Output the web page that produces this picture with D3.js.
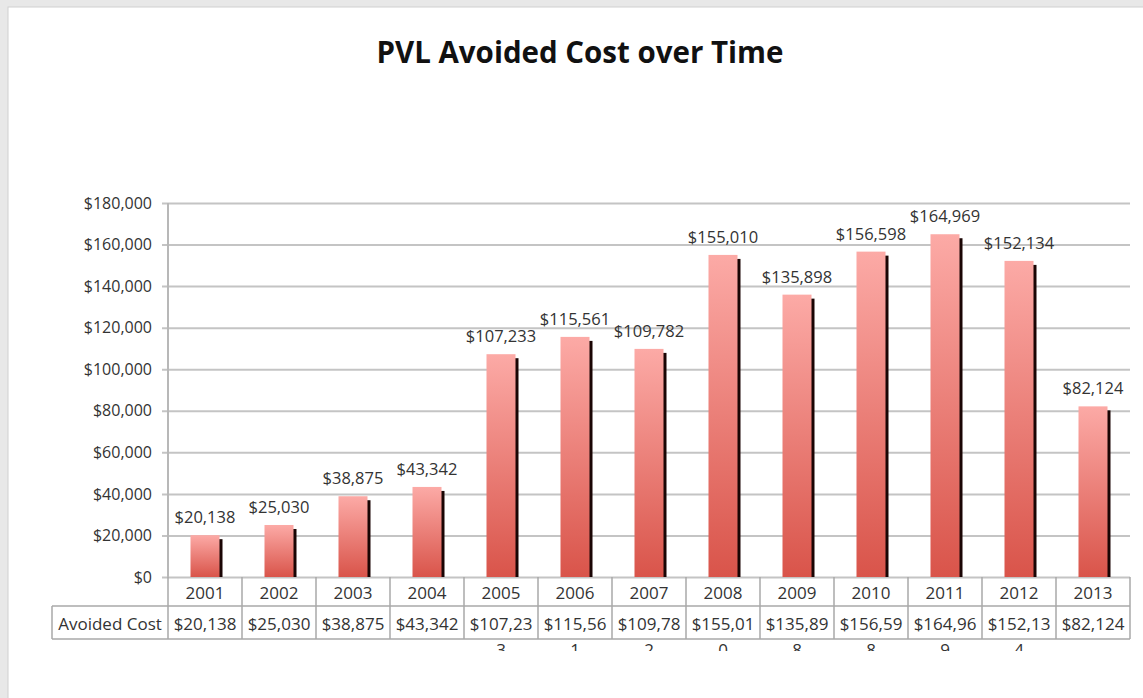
<!DOCTYPE html>
<html>
<head>
<meta charset="utf-8">
<script src="https://cdn.jsdelivr.net/npm/d3@7"></script>
<style>
  body { margin: 0; background: #fff; }
  svg text { font-family: "Open Sans", "DejaVu Sans", sans-serif; }
</style>
</head>
<body>
<svg id="chart" width="1143" height="698"></svg>
<script>
const years = ["2001", "2002", "2003", "2004", "2005", "2006", "2007", "2008", "2009", "2010", "2011", "2012", "2013"];
const avoidedCost = [20138, 25030, 38875, 43342, 107233, 115561, 109782, 155010, 135898, 156598, 164969, 152134, 82124];
const yTicks = [0, 20000, 40000, 60000, 80000, 100000, 120000, 140000, 160000, 180000];
const seriesName = "Avoided Cost";
const title = "PVL Avoided Cost over Time";

const svg = d3.select("#chart");
const plotL = 168, plotR = 1130, plotT = 203, base = 577;
const row1 = 606, row2 = 639, labelLeft = 52;

// frame
svg.append("rect").attr("width", 1143).attr("height", 698).attr("fill", "#e8e8e8");
svg.append("rect").attr("x", 8).attr("y", 7).attr("width", 1140).attr("height", 700)
  .attr("fill", "#fff").attr("stroke", "#cfcfcf").attr("stroke-width", 1);

const defs = svg.append("defs");
const grad = defs.append("linearGradient").attr("id", "barGrad")
  .attr("x1", 0).attr("y1", 0).attr("x2", 0).attr("y2", 1);
grad.append("stop").attr("offset", "0%").attr("stop-color", "#fcaaa6");
grad.append("stop").attr("offset", "100%").attr("stop-color", "#d9544a");
defs.append("clipPath").attr("id", "tableClip")
  .append("rect").attr("x", 0).attr("y", 0).attr("width", 1143).attr("height", 651);

const x = d3.scaleBand().domain(years).range([plotL, plotR]);
const y = d3.scaleLinear().domain([0, 180000]).range([base, plotT]);
const fmt = v => "$" + d3.format(",")(v);

svg.append("text")
  .attr("x", 580).attr("y", 63)
  .attr("text-anchor", "middle")
  .style("font-size", "29.5px").style("font-weight", "bold")
  .attr("fill", "#111")
  .text(title);

// gridlines
svg.append("g")
  .attr("transform", `translate(${plotR},0)`)
  .call(d3.axisLeft(y).tickValues(yTicks).tickSize(plotR - plotL + 6).tickFormat(""))
  .call(g => g.select(".domain").remove())
  .call(g => g.selectAll("line").attr("stroke", "#c4c4c4").attr("stroke-width", 2));

// y axis labels
svg.append("g")
  .attr("transform", `translate(${plotL - 6},0)`)
  .call(d3.axisLeft(y).tickValues(yTicks).tickSize(0).tickPadding(10).tickFormat(fmt))
  .call(g => g.select(".domain").remove())
  .call(g => g.selectAll("text").style("font-size", "16px").attr("fill", "#333"));

svg.append("line")
  .attr("x1", plotL).attr("x2", plotL).attr("y1", plotT).attr("y2", base)
  .attr("stroke", "#b8b8b8").attr("stroke-width", 2);

// bars
const bw = 29;
const bars = svg.append("g").selectAll("g")
  .data(years.map((yr, i) => ({ yr, v: avoidedCost[i] })))
  .join("g");

bars.append("rect")
  .attr("x", d => x(d.yr) + x.bandwidth() / 2 - bw / 2 + 3)
  .attr("y", d => y(d.v) + 4)
  .attr("width", bw)
  .attr("height", d => base - y(d.v) - 4)
  .attr("fill", "#1a0504");

bars.append("rect")
  .attr("x", d => x(d.yr) + x.bandwidth() / 2 - bw / 2)
  .attr("y", d => y(d.v))
  .attr("width", bw)
  .attr("height", d => base - y(d.v))
  .attr("fill", "url(#barGrad)");

bars.append("text")
  .attr("x", d => x(d.yr) + x.bandwidth() / 2)
  .attr("y", d => y(d.v) - 12)
  .attr("text-anchor", "middle")
  .style("font-size", "16.5px")
  .attr("fill", "#333")
  .text(d => fmt(d.v));

// data table
const tbl = svg.append("g").attr("clip-path", "url(#tableClip)");
const bc = "#a8a8a8";
tbl.append("line").attr("x1", plotL).attr("x2", plotR).attr("y1", row1).attr("y2", row1).attr("stroke", bc).attr("stroke-width", 1.5);
tbl.append("line").attr("x1", labelLeft).attr("x2", plotR).attr("y1", row2).attr("y2", row2).attr("stroke", bc).attr("stroke-width", 1.5);
tbl.append("line").attr("x1", labelLeft).attr("x2", plotL).attr("y1", row1).attr("y2", row1).attr("stroke", bc).attr("stroke-width", 1.5);
tbl.append("line").attr("x1", labelLeft).attr("x2", labelLeft).attr("y1", row1).attr("y2", row2).attr("stroke", bc).attr("stroke-width", 1.5);
tbl.selectAll(".vline").data(years.concat(["end"]))
  .join("line")
  .attr("x1", d => d === "end" ? plotR : x(d))
  .attr("x2", d => d === "end" ? plotR : x(d))
  .attr("y1", base).attr("y2", row2)
  .attr("stroke", bc).attr("stroke-width", 1.5);

tbl.selectAll(".yr").data(years)
  .join("text")
  .attr("x", d => x(d) + x.bandwidth() / 2)
  .attr("y", 599)
  .attr("text-anchor", "middle")
  .style("font-size", "17px").attr("fill", "#333")
  .text(d => d);

tbl.append("text")
  .attr("x", (labelLeft + plotL) / 2).attr("y", 630)
  .attr("text-anchor", "middle")
  .style("font-size", "17px").attr("fill", "#333")
  .text(seriesName);

const cells = tbl.selectAll(".cell").data(years.map((yr, i) => ({ yr, s: fmt(avoidedCost[i]) })))
  .join("text")
  .attr("x", d => x(d.yr) + x.bandwidth() / 2)
  .attr("text-anchor", "middle")
  .style("font-size", "17px").attr("fill", "#333");
cells.append("tspan").attr("x", d => x(d.yr) + x.bandwidth() / 2).attr("y", 630).text(d => d.s.slice(0, 7));
cells.append("tspan").attr("x", d => x(d.yr) + x.bandwidth() / 2).attr("y", 656).text(d => d.s.slice(7));
</script>
</body>
</html>
